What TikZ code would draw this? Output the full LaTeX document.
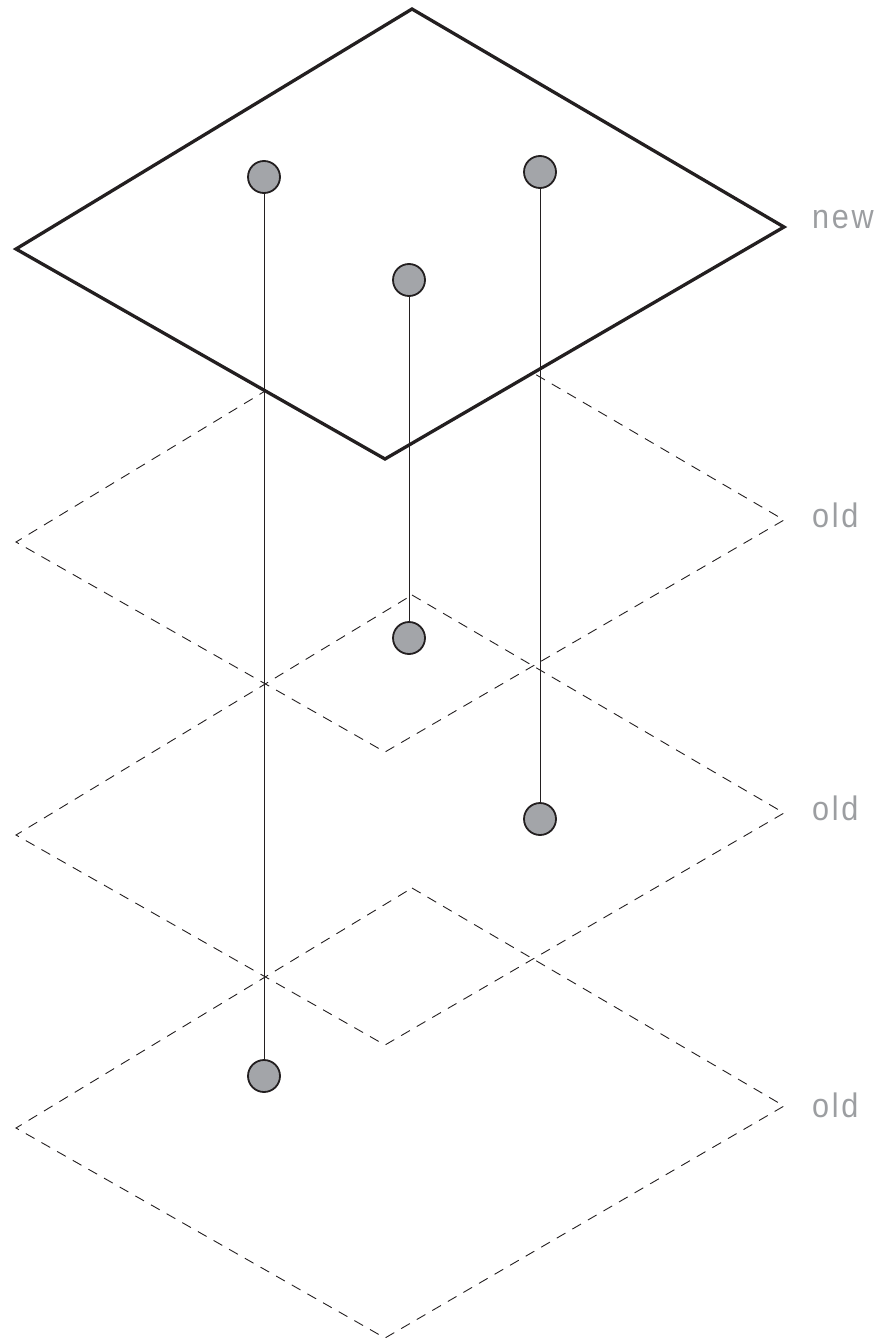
\documentclass[tikz,border=0pt]{standalone}
\usepackage{fontspec}
\newfontfamily\labfont[FakeStretch=0.9,LetterSpace=8]{Liberation Sans}
\definecolor{labgray}{HTML}{9C9EA1}
\definecolor{dotgray}{HTML}{A3A5A9}
\definecolor{ink}{HTML}{231F20}
\begin{document}
\begin{tikzpicture}[x=1pt,y=-1pt,
  newplane/.style={draw=ink, line width=3.3pt, fill=white, line join=miter},
  oldplane/.style={draw=ink, line width=0.9pt, dash pattern=on 10pt off 8pt},
  stem/.style={draw=ink, line width=1pt},
  dot/.style={circle, draw=ink, line width=1.8pt, fill=dotgray, minimum size=32pt, inner sep=0pt},
  lab/.style={anchor=base west, text=labgray, font=\labfont\fontsize{34}{34}\selectfont, inner sep=0pt}]
\useasboundingbox (0,0) rectangle (884,1340);
% plane corners
\foreach \k in {0,1,2,3}{
  \coordinate (T\k) at (412,9+293*\k);
  \coordinate (R\k) at (784,227+293*\k);
  \coordinate (B\k) at (385,459+293*\k);
  \coordinate (L\k) at (16,249+293*\k);
}
% old (dashed) planes
\foreach \k in {1,2,3}{
  \draw[oldplane] (T\k) -- (R\k) -- (B\k) -- (L\k) -- cycle;
}
% new plane
\draw[newplane] (T0) -- (R0) -- (B0) -- (L0) -- cycle;
% dots
\node[dot] (n1) at (264,177) {};
\node[dot] (n2) at (540,172) {};
\node[dot] (n3) at (409,280) {};
\node[dot] (o1) at (409,638) {};
\node[dot] (o2) at (540,819) {};
\node[dot] (o3) at (264,1076) {};
% stems
\draw[stem] (n1.south) -- (o3.north);
\draw[stem] (n2.south) -- (o2.north);
\draw[stem] (n3.south) -- (o1.north);
% labels
\node[lab] (lnew) at (812,229) {new};
\node[lab] (lold1) at (812,527) {old};
\node[lab] (lold2) at (812,820) {old};
\node[lab] (lold3) at (812,1117) {old};
\end{tikzpicture}
\end{document}
